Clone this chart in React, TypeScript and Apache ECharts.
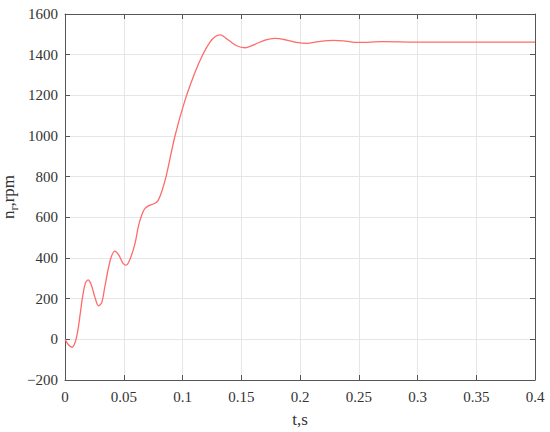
import React, { useEffect, useRef } from "react";
import * as echarts from "echarts";

const timeS = [
  0, 0.0031, 0.006, 0.0088, 0.011, 0.013, 0.015, 0.0173, 0.0196, 0.0224, 0.0253,
  0.0285, 0.0312, 0.0338, 0.0366, 0.0394, 0.0423, 0.0457, 0.0494, 0.0522, 0.0556,
  0.0596, 0.0624, 0.0653, 0.0681, 0.0723, 0.0766, 0.0794, 0.0823, 0.086, 0.0936,
  0.1021, 0.1106, 0.1172, 0.1234, 0.1277, 0.132, 0.139, 0.1461, 0.1532, 0.1617,
  0.1702, 0.1787, 0.1887, 0.1986, 0.2057, 0.2156, 0.2284, 0.2369, 0.25, 0.27,
  0.3, 0.35, 0.4,
];
const speedRpm = [
  0, -28, -39, -12, 46, 128, 210, 275, 292, 267, 210,
  165, 180, 255, 341, 406, 434, 415, 374, 365, 398,
  472, 554, 611, 644, 660, 669, 685, 726, 800, 1000,
  1175, 1312, 1400, 1462, 1488, 1497, 1472, 1444, 1434, 1451,
  1472, 1480, 1472, 1459, 1456, 1464, 1470, 1468, 1460, 1464,
  1462, 1462, 1462,
];
const xTicks = { min: 0, max: 0.4, interval: 0.05 };
const yTicks = { min: -200, max: 1600, interval: 200 };

const FONT = "Liberation Serif";

export default function App() {
  const ref = useRef<HTMLDivElement>(null);
  useEffect(() => {
    if (!ref.current) return;
    const chart = echarts.init(ref.current, undefined, { renderer: "svg" });
    const axisLine = { show: true, lineStyle: { color: "#555", width: 1 } };
    const tick = { show: true, inside: true, length: 5, lineStyle: { color: "#555" } };
    chart.setOption({
      animation: false,
      backgroundColor: "#fff",
      grid: { left: 65, right: 15, top: 14, bottom: 52, containLabel: false, outerBoundsMode: "none" },
      graphic: [
        {
          type: "text",
          x: 10,
          y: 197,
          rotation: Math.PI / 2,
          style: {
            text: "{n|n}{s|r}{n|,rpm}",
            align: "center",
            verticalAlign: "middle",
            fill: "#333",
            fontFamily: FONT,
            fontSize: 17,
            rich: {
              n: { fontFamily: FONT, fontSize: 17, fill: "#333", verticalAlign: "bottom", padding: [0, 0, 3, 0] },
              s: { fontFamily: FONT, fontSize: 12, fill: "#333", verticalAlign: "bottom", padding: [0, 0, 0, 0] },
            },
          },
        },
      ],
      xAxis: [
        {
          type: "value",
          ...xTicks,
          axisLine: { ...axisLine, onZero: false },
          axisTick: tick,
          axisLabel: {
            color: "#333",
            fontFamily: FONT,
            fontSize: 15,
            margin: 9,
            formatter: (v: number) => String(Math.round(v * 100) / 100),
          },
          splitLine: { show: true, lineStyle: { color: "#e6e6e6" } },
          name: "t,s",
          nameLocation: "middle",
          nameGap: 31,
          nameTextStyle: { color: "#333", fontFamily: FONT, fontSize: 17, verticalAlign: "top" },
        },
        {
          type: "value",
          position: "top",
          ...xTicks,
          axisLine: { ...axisLine, onZero: false },
          axisTick: tick,
          axisLabel: { show: false },
          splitLine: { show: false },
        },
      ],
      yAxis: [
        {
          type: "value",
          ...yTicks,
          axisLine: { ...axisLine, onZero: false },
          axisTick: tick,
          axisLabel: {
            color: "#333",
            fontFamily: FONT,
            fontSize: 15,
            margin: 7,
            formatter: (v: number) => (v < 0 ? "\u2212" + Math.abs(v) : String(v)),
          },
          splitLine: { show: true, lineStyle: { color: "#e6e6e6" } },
        },
        {
          type: "value",
          position: "right",
          ...yTicks,
          axisLine: { ...axisLine, onZero: false },
          axisTick: tick,
          axisLabel: { show: false },
          splitLine: { show: false },
        },
      ],
      series: [
        {
          type: "line",
          data: timeS.map((t, i) => [t, speedRpm[i]]),
          smooth: 0.3,
          showSymbol: false,
          lineStyle: { color: "#ff6b6b", width: 1.3 },
          xAxisIndex: 0,
          yAxisIndex: 0,
        },
      ],
    });
    return () => chart.dispose();
  }, []);
  return <div ref={ref} style={{ width: 550, height: 432, position: "absolute", left: 0, top: 0 }} />;
}
